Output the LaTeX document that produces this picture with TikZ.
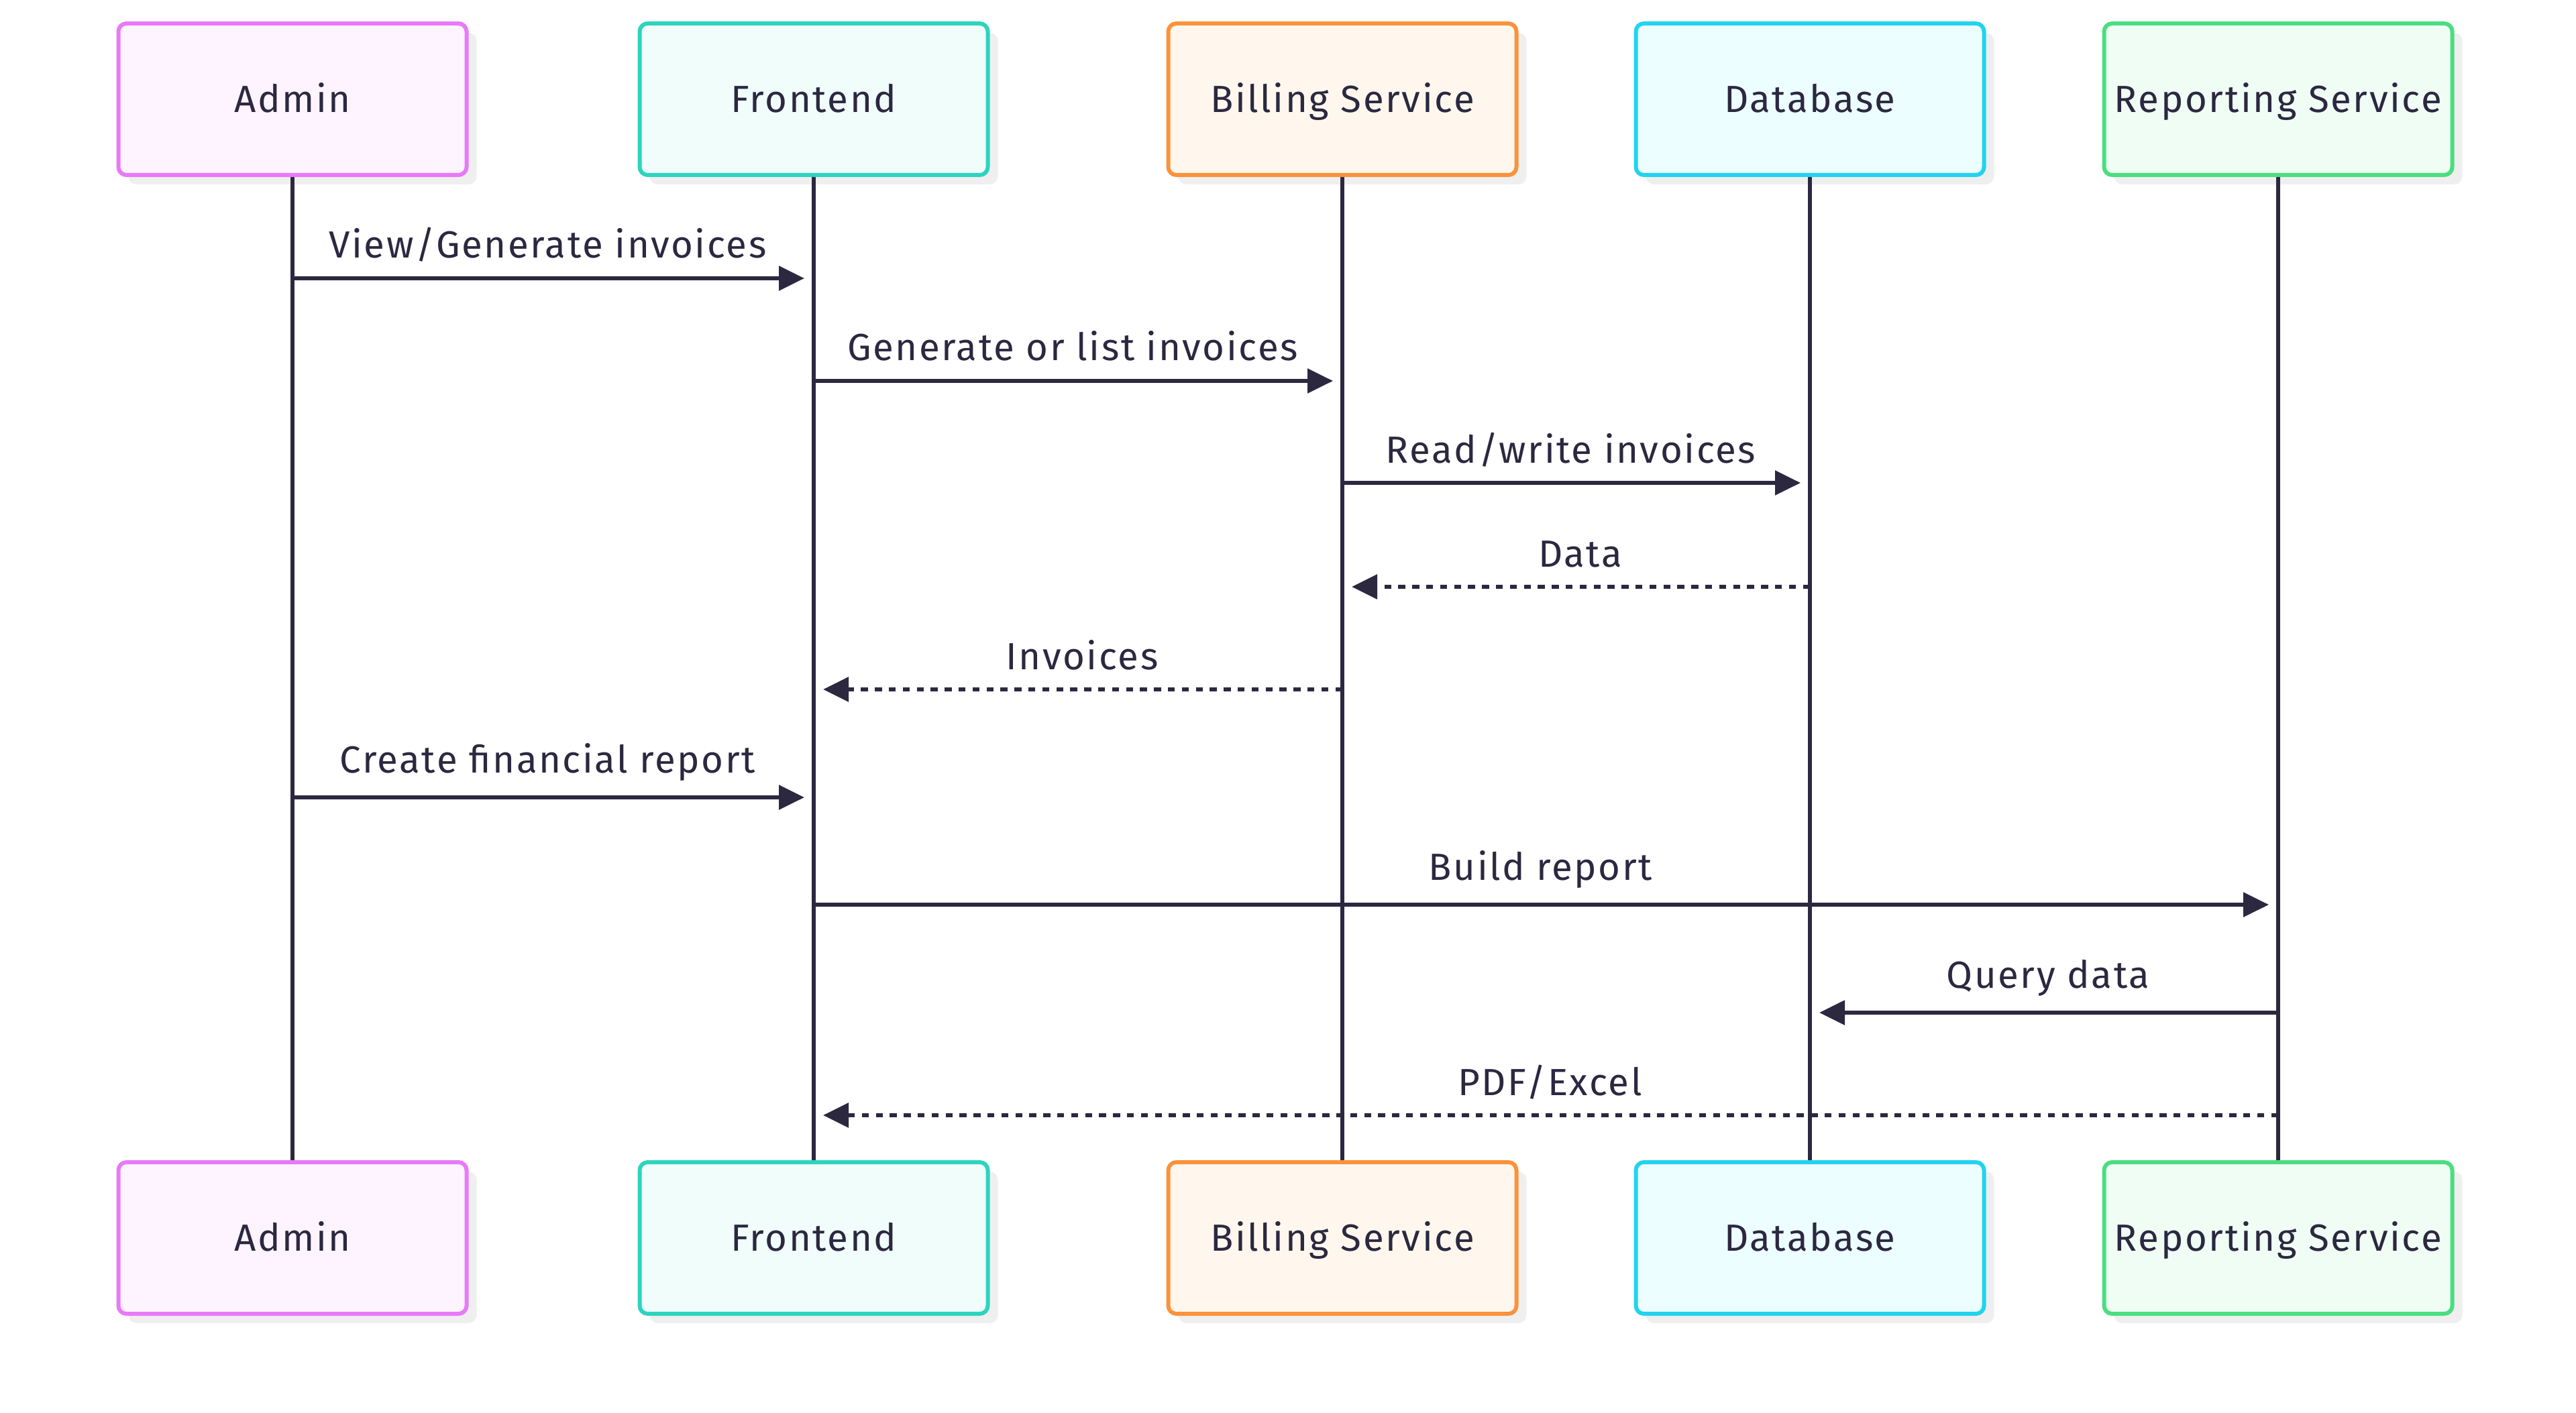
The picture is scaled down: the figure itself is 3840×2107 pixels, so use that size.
\documentclass[tikz,border=0pt]{standalone}
\usepackage{fontspec}
\setmainfont{Fira Sans}[LetterSpace=4.6]
\usetikzlibrary{arrows.meta,shadows}
\definecolor{ink}{HTML}{2B2840}
\definecolor{shadowgray}{HTML}{EFEFEF}
\definecolor{adminB}{HTML}{E879F9}\definecolor{adminF}{HTML}{FDF4FF}
\definecolor{frontB}{HTML}{2DD4BF}\definecolor{frontF}{HTML}{F0FDFA}
\definecolor{billB}{HTML}{FB923C}\definecolor{billF}{HTML}{FFF7ED}
\definecolor{dbB}{HTML}{22D3EE}\definecolor{dbF}{HTML}{ECFEFF}
\definecolor{repB}{HTML}{4ADE80}\definecolor{repF}{HTML}{F0FDF4}
\tikzset{
  actor/.style={draw=#1B, fill=#1F, line width=1.5pt, rounded corners=3pt,
    minimum width=129.75pt, minimum height=56.5pt, inner sep=0pt,
    text height=9.75pt, text depth=0pt, text=ink,
    font=\fontsize{14.1pt}{16pt}\selectfont,
    drop shadow={shadow xshift=3.75pt, shadow yshift=-3.5pt, fill=shadowgray, opacity=1}},
  life/.style={draw=ink, line width=1.4pt},
  msg/.style={draw=ink, line width=1.4pt, -{Triangle[length=9.5pt,width=9pt]}, shorten >=3.5pt},
  reply/.style={msg, dash pattern=on 2.6pt off 2.6pt},
  lbl/.style={midway, anchor=base, yshift=7.5pt, inner sep=0pt, text=ink,
    font=\fontsize{14.1pt}{16pt}\selectfont},
  lblR/.style={lbl, xshift=-2pt},
  lblL/.style={lbl, xshift=1.5pt},
  low/.style={yshift=1.75pt}
}
\begin{document}
\begin{tikzpicture}[x=0.25pt,y=-0.25pt]
\useasboundingbox (0,0) rectangle (3840,2107);
\fill[white] (0,0) rectangle (3840,2107);
% top actors
\node[actor=admin] (At) at (436,148) {Admin};
\node[actor=front] (Ft) at (1213,148) {Frontend};
\node[actor=bill]  (Bt) at (2001,148) {Billing Service};
\node[actor=db]    (Dt) at (2698,148) {Database};
\node[actor=rep]   (Rt) at (3396,148) {Reporting Service};
% bottom actors
\node[actor=admin] (Ab) at (436,1846) {Admin};
\node[actor=front] (Fb) at (1213,1846) {Frontend};
\node[actor=bill]  (Bb) at (2001,1846) {Billing Service};
\node[actor=db]    (Db) at (2698,1846) {Database};
\node[actor=rep]   (Rb) at (3396,1846) {Reporting Service};
% lifelines
\draw[life] (At.south) -- (Ab.north);
\draw[life] (Ft.south) -- (Fb.north);
\draw[life] (Bt.south) -- (Bb.north);
\draw[life] (Dt.south) -- (Db.north);
\draw[life] (Rt.south) -- (Rb.north);
% message rows
\coordinate (y1) at (0,415);
\coordinate (y2) at (0,568);
\coordinate (y3) at (0,720);
\coordinate (y4) at (0,875);
\coordinate (y5) at (0,1028);
\coordinate (y6) at (0,1189);
\coordinate (y7) at (0,1349);
\coordinate (y8) at (0,1510);
\coordinate (y9) at (0,1663);
\draw[msg]   (At |- y1) -- node[lblR] {View/Generate invoices} (Ft |- y1);
\draw[msg]   (Ft |- y2) -- node[lblR] {Generate or list invoices} (Bt |- y2);
\draw[msg]   (Bt |- y3) -- node[lblR] {Read/write invoices} (Dt |- y3);
\draw[reply] (Dt |- y4) -- node[lblL] {Data} (Bt |- y4);
\draw[reply] (Bt |- y5) -- node[lblL] {Invoices} (Ft |- y5);
\draw[msg]   (At |- y6) -- node[lblR, low] {Create financial report} (Ft |- y6);
\draw[msg]   (Ft |- y7) -- node[lblR, low] {Build report} (Rt |- y7);
\draw[msg]   (Rt |- y8) -- node[lblL, low] {Query data} (Dt |- y8);
\draw[reply] (Rt |- y9) -- node[lblL] {PDF/Excel} (Ft |- y9);
\end{tikzpicture}
\end{document}
